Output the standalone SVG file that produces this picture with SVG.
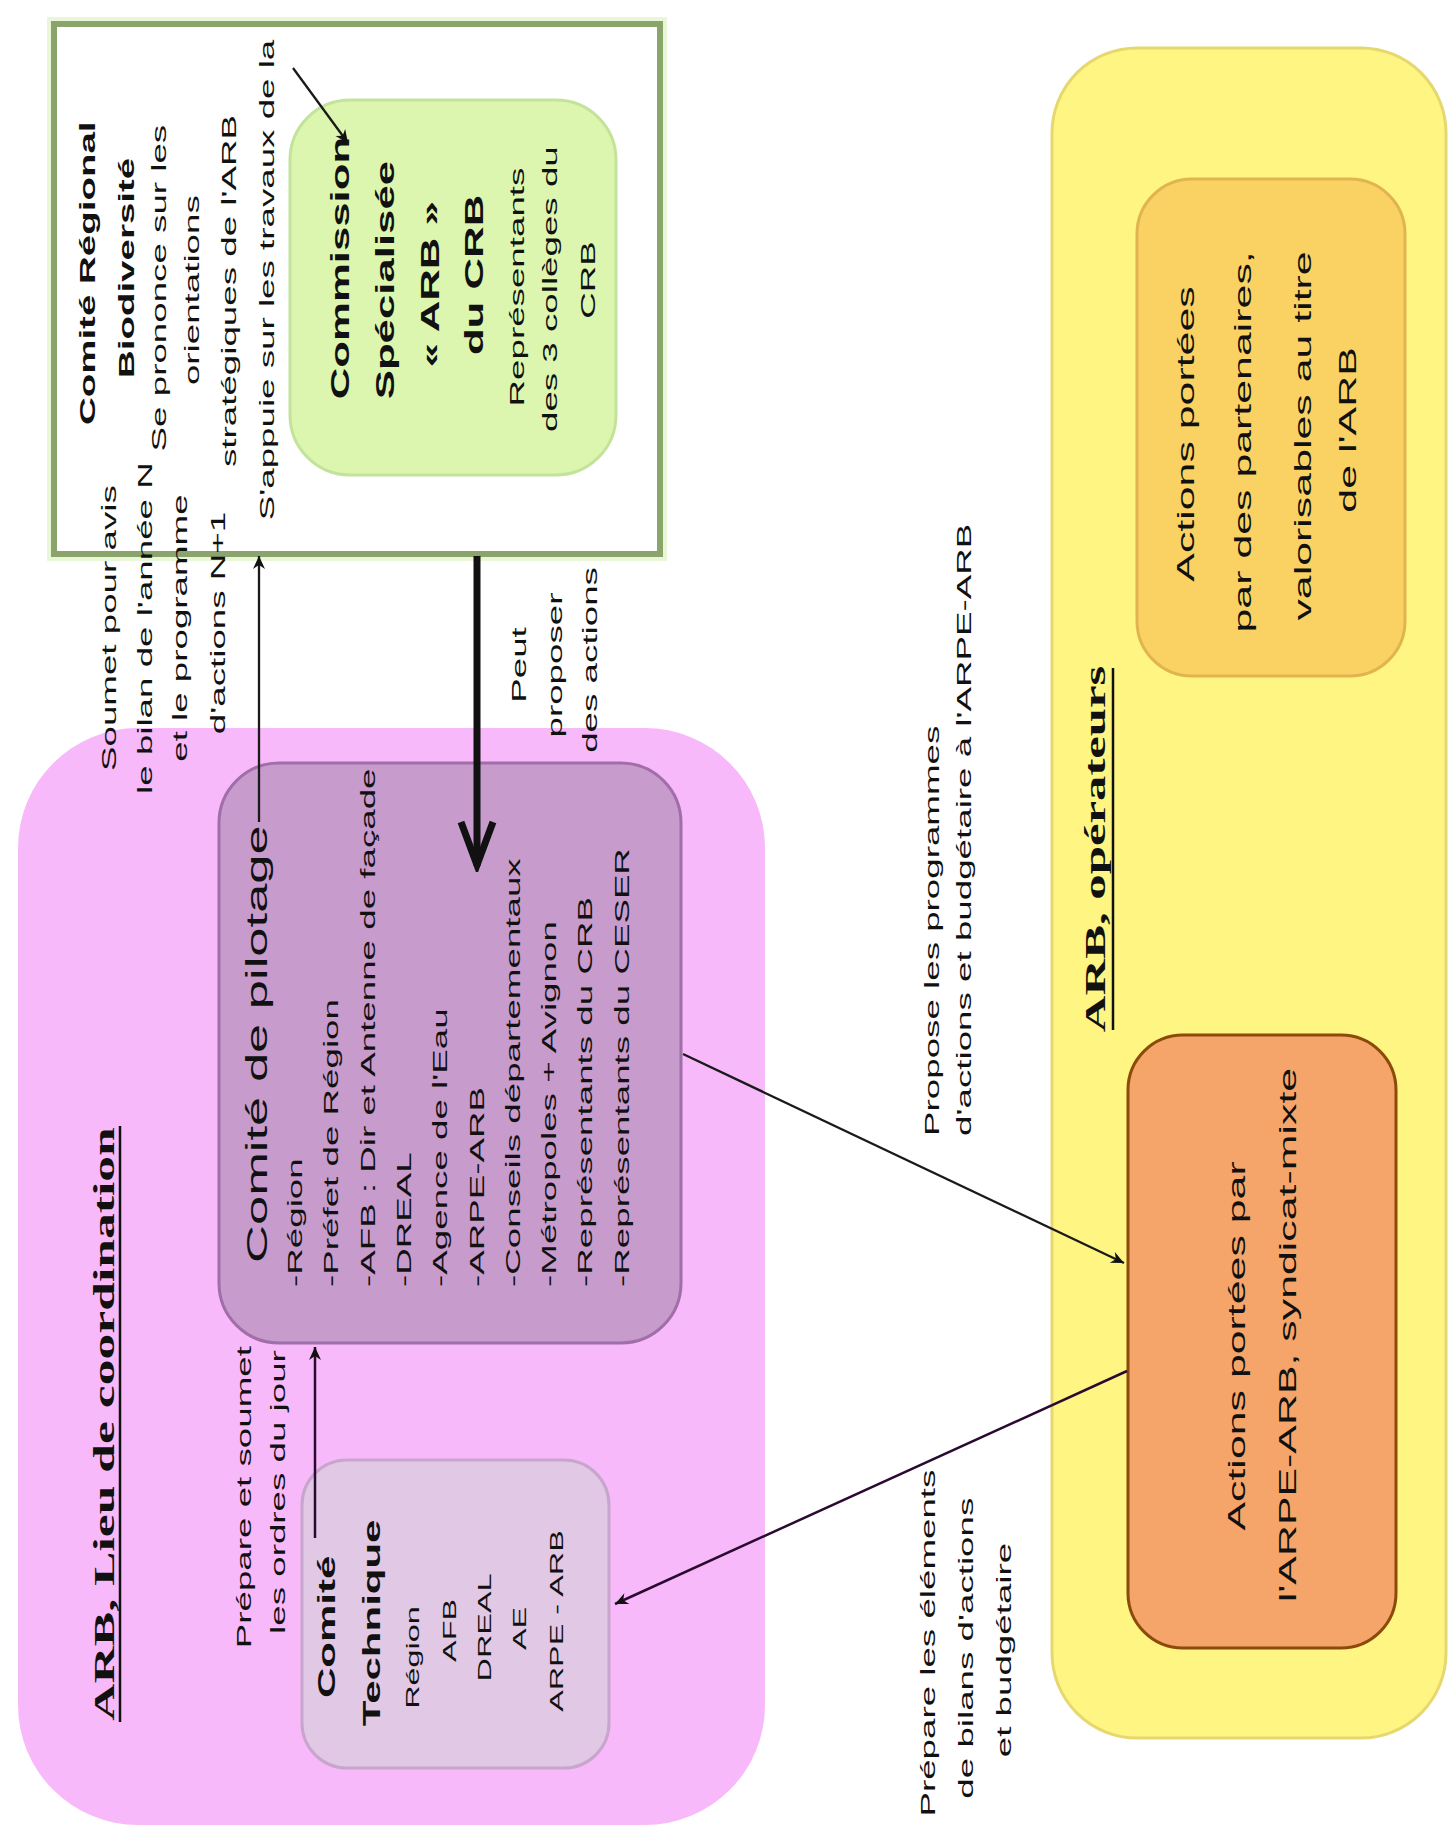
<svg xmlns="http://www.w3.org/2000/svg" width="1448" height="1839" viewBox="0 0 1448 1839">
<defs>
<style>
.t{font-family:"Liberation Sans",Arial,sans-serif;fill:#111}
.s{font-family:"Liberation Serif","Times New Roman",serif;font-weight:bold;fill:#111}
.r21{font-size:21px}
.r185{font-size:18.5px}
.r245{font-size:24.5px}
.r30{font-size:30px}
.b22{font-size:22px;font-weight:bold}
.b24{font-size:24px;font-weight:bold}
.b25{font-size:25px;font-weight:bold}
.m{text-anchor:middle}
.st{text-anchor:start}
.edge{fill:none;stroke:#1a1a1a;stroke-width:2.3}
.edgep{fill:none;stroke:#2a0a30;stroke-width:2.5}
.ul{stroke:#111;stroke-width:2.5}
</style>
<marker id="ah" viewBox="-14 -7 16 14" markerWidth="16" markerHeight="14" refX="0" refY="0" orient="auto" markerUnits="userSpaceOnUse">
<path d="M0,0 L-13,-6 L-9,0 L-13,6 Z" fill="#111"/>
</marker>
<marker id="chev" viewBox="-52 -22 58 44" markerWidth="58" markerHeight="44" refX="0" refY="0" orient="auto" markerUnits="userSpaceOnUse">
<path d="M-44,-16 L-1,0 L-44,16" fill="none" stroke="#111" stroke-width="7"/>
</marker>
</defs>
<rect width="1448" height="1839" fill="#ffffff"/>

<g id="coordination">
<rect x="18" y="728" width="747" height="1097" rx="120" fill="#f8b9fa"/>
<text class="s m" font-size="29.5" transform="rotate(-90) scale(1.75,1)"><tspan x="-813.7" y="114">ARB, Lieu de coordination</tspan></text>
<line class="ul" x1="120" y1="1126" x2="120" y2="1722"/>
</g>

<g id="operateurs">
<rect x="1052" y="48" width="394" height="1690" rx="85" fill="#fff582" stroke="#e6d76e" stroke-width="3"/>
<text class="s m" font-size="29" transform="rotate(-90) scale(1.75,1)"><tspan x="-485.1" y="1105">ARB, opérateurs</tspan></text>
<line class="ul" x1="1113" y1="668" x2="1113" y2="1030"/>
</g>

<g id="crb">
<rect x="54" y="24" width="606" height="530" fill="none" stroke="#eaf6d8" stroke-width="14"/>
<rect x="54" y="24" width="606" height="530" fill="#ffffff" stroke="#8aa46c" stroke-width="6"/>
<text class="t b22 m" transform="rotate(-90) scale(1.75,1)">
<tspan x="-153.1" y="95">Comité Régional</tspan>
<tspan x="-153.1" y="134">Biodiversité</tspan>
</text>
<text class="t r21 m" transform="rotate(-90) scale(1.75,1)">
<tspan x="-161.7" y="166">Se prononce sur les</tspan>
<tspan x="-162.9" y="199">orientations</tspan>
<tspan x="-163.4" y="236">stratégiques de l'ARB</tspan>
<tspan x="-160" y="274">S'appuie sur les travaux de la</tspan>
</text>
</g>

<g id="commission">
<rect x="290" y="100" width="326" height="375" rx="60" fill="#dcf6b0" stroke="#c4e39a" stroke-width="3"/>
<text class="t b25 m" transform="rotate(-90) scale(1.75,1)">
<tspan x="-149.7" y="349">Commission</tspan>
<tspan x="-156.6" y="394">Spécialisée</tspan>
<tspan x="-158.9" y="439">« ARB »</tspan>
<tspan x="-157.1" y="483">du CRB</tspan>
</text>
<text class="t r21 m" transform="rotate(-90) scale(1.75,1)">
<tspan x="-161.1" y="524">Représentants</tspan>
<tspan x="-162.3" y="557">des 3 collèges du</tspan>
<tspan x="-160" y="595">CRB</tspan>
</text>
</g>

<g id="copil">
<rect x="219" y="763" width="462" height="580" rx="60" fill="#c89bcd" stroke="#a06ea8" stroke-width="3"/>
<text class="t r30 st" transform="rotate(-90) scale(1.75,1)"><tspan x="-721.7" y="267">Comité de pilotage</tspan></text>
<text class="t r21 st" transform="rotate(-90) scale(1.75,1)">
<tspan x="-735.4" y="302">-Région</tspan>
<tspan x="-735.4" y="338">-Préfet de Région</tspan>
<tspan x="-735.4" y="375">-AFB : Dir et Antenne de façade</tspan>
<tspan x="-735.4" y="411">-DREAL</tspan>
<tspan x="-735.4" y="447">-Agence de l'Eau</tspan>
<tspan x="-735.4" y="484">-ARPE-ARB</tspan>
<tspan x="-735.4" y="520">-Conseils départementaux</tspan>
<tspan x="-735.4" y="556">-Métropoles + Avignon</tspan>
<tspan x="-735.4" y="592">-Représentants du CRB</tspan>
<tspan x="-735.4" y="629">-Représentants du CESER</tspan>
</text>
</g>

<g id="cotech">
<rect x="302" y="1460" width="307" height="308" rx="45" fill="#e1c8e4" stroke="#c8a5cd" stroke-width="3"/>
<text class="t b24 m" transform="rotate(-90) scale(1.75,1)">
<tspan x="-926.3" y="335">Comité</tspan>
<tspan x="-927.4" y="380">Technique</tspan>
</text>
<text class="t r185 m" transform="rotate(-90) scale(1.75,1)">
<tspan x="-944.6" y="419">Région</tspan>
<tspan x="-929.1" y="456.5">AFB</tspan>
<tspan x="-927.4" y="491.5">DREAL</tspan>
<tspan x="-928" y="526.5">AE</tspan>
<tspan x="-926.3" y="563.5">ARPE - ARB</tspan>
</text>
</g>

<g id="partenaires">
<rect x="1137" y="179" width="268" height="497" rx="55" fill="#fad264" stroke="#e1b450" stroke-width="3"/>
<text class="t r245 m" transform="rotate(-90) scale(1.75,1)">
<tspan x="-244.6" y="1194">Actions portées</tspan>
<tspan x="-249.1" y="1251">par des partenaires,</tspan>
<tspan x="-245.7" y="1311">valorisables au titre</tspan>
<tspan x="-245.7" y="1356">de l'ARB</tspan>
</text>
</g>

<g id="arpe">
<rect x="1128" y="1035" width="268" height="613" rx="55" fill="#f5a569" stroke="#8c4b0a" stroke-width="3"/>
<text class="t r245 m" transform="rotate(-90) scale(1.75,1)">
<tspan x="-765.7" y="1245">Actions portées par</tspan>
<tspan x="-762.9" y="1296">l'ARPE-ARB, syndicat-mixte</tspan>
</text>
</g>

<g id="connectors">
<line class="edge" x1="293" y1="68" x2="348" y2="143" marker-end="url(#ah)"/>
<line class="edge" x1="259" y1="822" x2="259" y2="556" marker-end="url(#ah)"/>
<line x1="477" y1="556" x2="477" y2="866" stroke="#111" stroke-width="7" marker-end="url(#chev)"/>
<line class="edgep" x1="315" y1="1538" x2="315" y2="1347" marker-end="url(#ah)"/>
<line class="edge" x1="683" y1="1054" x2="1124" y2="1263" marker-end="url(#ah)"/>
<line class="edgep" x1="1127" y1="1371" x2="615" y2="1604" marker-end="url(#ah)"/>
</g>

<g id="edge-labels">
<text class="t r21 m" transform="rotate(-90) scale(1.75,1)">
<tspan x="-356" y="116">Soumet pour avis</tspan>
<tspan x="-356" y="152">le bilan de l'année N</tspan>
<tspan x="-356" y="187">et le programme</tspan>
<tspan x="-356" y="225">d'actions N+1</tspan>
</text>
<text class="t r21 m" transform="rotate(-90) scale(1.75,1)">
<tspan x="-377.1" y="526">Peut</tspan>
<tspan x="-377.1" y="562">proposer</tspan>
<tspan x="-377.1" y="597">des actions</tspan>
</text>
<text class="t r21 m" transform="rotate(-90) scale(1.75,1)">
<tspan x="-852.6" y="251">Prépare et soumet</tspan>
<tspan x="-852.6" y="285">les ordres du jour</tspan>
</text>
<text class="t r21 st" transform="rotate(-90) scale(1.75,1)">
<tspan x="-649.1" y="939">Propose les programmes</tspan>
<tspan x="-649.1" y="971">d'actions et budgétaire à l'ARPE-ARB</tspan>
</text>
<text class="t r21 m" transform="rotate(-90) scale(1.75,1)">
<tspan x="-936" y="935">Prépare les éléments</tspan>
<tspan x="-938.9" y="973">de bilans d'actions</tspan>
<tspan x="-942.9" y="1011">et budgétaire</tspan>
</text>
</g>
</svg>
